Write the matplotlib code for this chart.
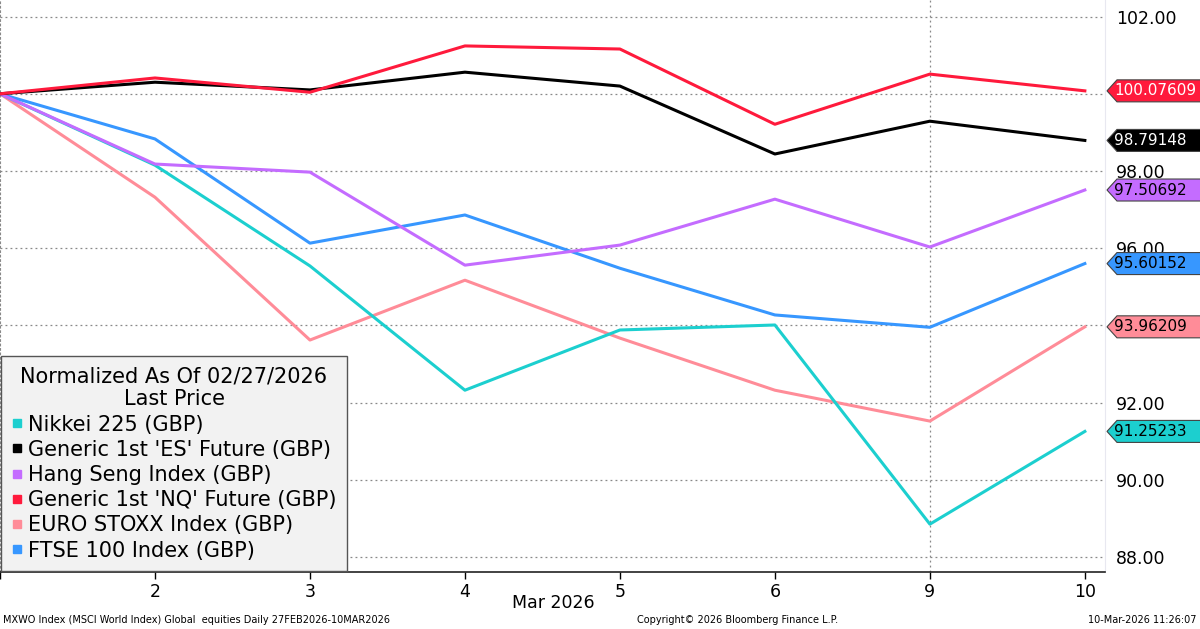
import numpy as np
import matplotlib.pyplot as plt
from matplotlib.patches import Polygon

plt.rcParams['font.family'] = ['DejaVu Sans']

# trading days, 27 Feb 2026 .. 10 Mar 2026
dates = ['', '2', '3', '4', '5', '6', '9', '10']

nikkei = [100, 98.15, 95.54, 92.32, 93.88, 94.01, 88.85, 91.25233]
es_fut = [100, 100.30, 100.10, 100.56, 100.20, 98.44, 99.29, 98.79148]
hang_seng = [100, 98.18, 97.97, 95.56, 96.08, 97.27, 96.03, 97.50692]
nq_fut = [100, 100.41, 100.04, 101.24, 101.16, 99.21, 100.51, 100.07609]
stoxx = [100, 97.32, 93.62, 95.17, 93.67, 92.32, 91.52, 93.96209]
ftse = [100, 98.83, 96.13, 96.86, 95.48, 94.27, 93.95, 95.60152]

names = ['Nikkei 225 (GBP)', "Generic 1st 'ES' Future (GBP)", 'Hang Seng Index (GBP)',
         "Generic 1st 'NQ' Future (GBP)", 'EURO STOXX Index (GBP)', 'FTSE 100 Index (GBP)']
series = [nikkei, es_fut, hang_seng, nq_fut, stoxx, ftse]
colors = ['#1ccfcf', '#000000', '#c46cff', '#ff1a3c', '#ff8c98', '#3797ff']
tag_text = ['black', 'white', 'black', 'white', 'black', 'black']
tag_labels = ['91.25233', '98.79148', '97.50692', '100.07609', '93.96209', '95.60152']

yticks = [88, 90, 92, 94, 96, 98, 100, 102]
ylabels = ['88.00', '90.00', '92.00', '', '96.00', '98.00', '', '102.00']

fig = plt.figure(figsize=(12, 6.29), dpi=100)
ax = fig.add_axes([0, 1 - 572 / 629, 1105 / 1200, 572 / 629])

x = np.arange(len(dates))
# draw order so red ends on top like the reference
order = [4, 0, 5, 2, 1, 3]
for i in order:
    ax.plot(x, series[i], color=colors[i], lw=2.2, zorder=3)

ax.set_xlim(0, 7.13)
ax.set_ylim(87.61, 102.43)
ax.set_xticks(x)
ax.set_xticklabels(dates, fontsize=12.5)
ax.tick_params(axis='x', length=5, width=1, direction='out', pad=3)

ax.yaxis.tick_right()
ax.set_yticks(yticks)
ax.set_yticklabels(ylabels, fontsize=12.5)
ax.tick_params(axis='y', length=0, pad=8)
ax.grid(axis='y', color='#888888', ls=(0, (1.5, 2.5)), lw=0.9)
ax.axvline(6, color='#888888', ls=(0, (1.5, 2.5)), lw=0.9)

ax.spines['top'].set_visible(False)
ax.spines['left'].set_linestyle((0, (1.5, 2.5)))
ax.spines['left'].set_color('#888888')
ax.spines['right'].set_color('#e8e8f0')
ax.spines['bottom'].set_color('#222222')
ax.spines['bottom'].set_linewidth(1.2)

ax.text(553 / 1105, -0.055, 'Mar 2026', transform=ax.transAxes, ha='center',
        va='center', fontsize=12.5)

# value tags on right
tr = ax.get_yaxis_transform()
h = 11 / 38.6
for i in range(len(series)):
    v = series[i][-1]
    pts = [(1107 / 1105, v), (1117 / 1105, v + h), (1.09, v + h),
           (1.09, v - h), (1117 / 1105, v - h)]
    ax.add_patch(Polygon(pts, closed=True, transform=tr, facecolor=colors[i],
                         edgecolor='#444444', lw=0.8, clip_on=False, zorder=10))
    ax.text(1114 / 1105, v, tag_labels[i], transform=tr, ha='left', va='center',
            fontsize=11, color=tag_text[i], zorder=11, clip_on=False)

# legend
handles = [plt.Line2D([], [], ls='none', marker='s', ms=6, color=c) for c in colors]
leg = ax.legend(handles, names, loc='lower left', bbox_to_anchor=(0.0, 0.0),
                title='Normalized As Of 02/27/2026\nLast Price', fontsize=15,
                title_fontsize=15, frameon=True, fancybox=False, handlelength=0.5,
                handletextpad=0.3, borderpad=0.5, labelspacing=0.25,
                borderaxespad=0.05, alignment='center')
leg.get_title().set_multialignment('center')
leg.get_frame().set_facecolor('#f2f2f2')
leg.get_frame().set_edgecolor('#555555')
leg.get_frame().set_alpha(1)
leg.set_zorder(20)

fig.text(3 / 1200, 1 - 620 / 629, 'MXWO Index (MSCI World Index) Global  equities Daily 27FEB2026-10MAR2026',
         fontsize=7, va='center', ha='left')
fig.text(637 / 1200, 1 - 620 / 629, 'Copyright\u00a9 2026 Bloomberg Finance L.P.',
         fontsize=7, va='center', ha='left')
fig.text(1197 / 1200, 1 - 620 / 629, '10-Mar-2026 11:26:07', fontsize=7,
         va='center', ha='right')

fig.savefig('out.png', dpi=100)
